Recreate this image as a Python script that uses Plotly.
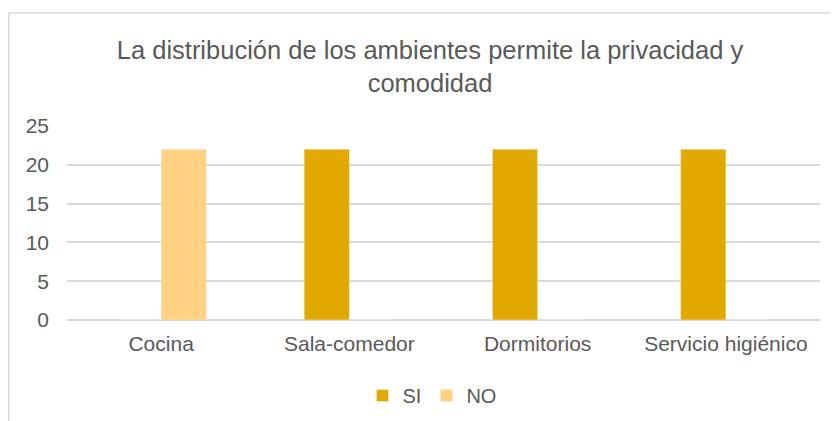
import plotly.graph_objects as go

categories = ["Cocina", "Sala-comedor", "Dormitorios", "Servicio higiénico"]
si_values = [0, 22, 22, 22]
no_values = [22, 0, 0, 0]
y_ticks = [0, 5, 10, 15, 20, 25]

# the page body has an 8px margin, so the figure is sized to fit the window
W, H = 830, 413
L, R, T, B = 59, 18, 118, 101
pw, ph = W - L - R, H - T - B

fig = go.Figure()
fig.add_trace(go.Bar(name="SI", x=categories, y=si_values, marker_color="#E2AA00"))
fig.add_trace(go.Bar(name="NO", x=categories, y=no_values, marker_color="#FFD180"))

def px(x):
    return (x - L) / pw

def py(y):
    return (H - B - y) / ph

fig.update_layout(
    width=W, height=H,
    margin=dict(l=L, r=R, t=T, b=B, autoexpand=False),
    paper_bgcolor="white", plot_bgcolor="white",
    font=dict(family="Liberation Sans, Arial, sans-serif", color="#595959", size=21),
    barmode="group", bargap=0.52, bargroupgap=0,
    title=dict(text="La distribución de los ambientes permite la privacidad y<br>comodidad",
               x=422 / W, xanchor="center", y=1 - 51 / H, yanchor="top",
               font=dict(size=25.5, color="#595959")),
    xaxis=dict(showgrid=False, showline=False, ticks="", tickfont=dict(size=21),
               ticklabelstandoff=9),
    yaxis=dict(range=[0, 25], tickvals=y_ticks, showgrid=True, gridcolor="#D9D9D9",
               gridwidth=1.5, zeroline=True, zerolinecolor="#D9D9D9", zerolinewidth=1.5,
               ticks="", tickfont=dict(size=21), ticklabelstandoff=17),
    legend=dict(orientation="h", x=424 / W, xanchor="center", xref="container",
                y=1 - 368 / H, yref="container", yanchor="top",
                font=dict(size=20), itemwidth=30, traceorder="normal"),
    showlegend=True,
    shapes=[
        dict(type="line", xref="paper", yref="paper", x0=px(0.75), x1=px(W + 5), y0=py(5), y1=py(5),
             line=dict(color="#D9D9D9", width=1.5)),
        dict(type="line", xref="paper", yref="paper", x0=px(0.75), x1=px(0.75), y0=py(5), y1=py(H + 5),
             line=dict(color="#D9D9D9", width=1.5)),
    ],
)

fig.write_html("out.html")
